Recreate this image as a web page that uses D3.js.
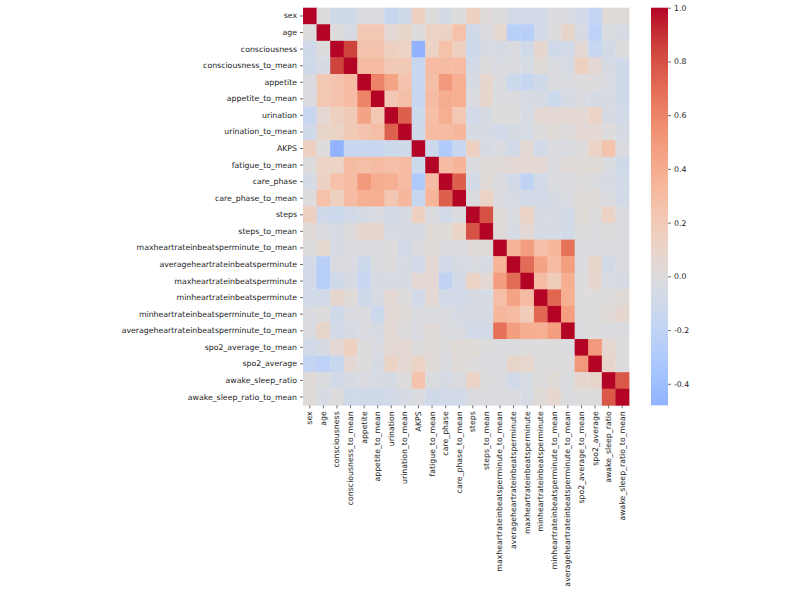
<!DOCTYPE html>
<html>
<head>
<meta charset="utf-8">
<script src="https://cdn.jsdelivr.net/npm/d3@7"></script>
<style>
  body { margin: 0; background: #fff; }
  text { font-family: "DejaVu Sans", sans-serif; fill: #222; }
</style>
</head>
<body>
<svg id="chart"></svg>
<script>
(function (d3) {
  'use strict'
  const W = 800
  const H = 600

  // variable names, same order for rows and columns
  const names = [
    'sex', 'age', 'consciousness', 'consciousness_to_mean', 'appetite',
    'appetite_to_mean', 'urination', 'urination_to_mean', 'AKPS',
    'fatigue_to_mean', 'care_phase', 'care_phase_to_mean', 'steps',
    'steps_to_mean', 'maxheartrateinbeatsperminute_to_mean',
    'averageheartrateinbeatsperminute', 'maxheartrateinbeatsperminute',
    'minheartrateinbeatsperminute', 'minheartrateinbeatsperminute_to_mean',
    'averageheartrateinbeatsperminute_to_mean', 'spo2_average_to_mean',
    'spo2_average', 'awake_sleep_ratio', 'awake_sleep_ratio_to_mean'
  ]

  // upper triangle: row i holds corr(i, j) for j = i+1 .. end
  const upper = [
    [0.0, -0.1, -0.1, -0.03, -0.03, -0.15, -0.1, 0.15, 0.0, -0.06, 0.0, 0.15, 0.02, -0.01, -0.08, -0.08, -0.08, -0.03, -0.03, -0.08, -0.18, 0.02, 0.02],
    [0.0, -0.05, 0.22, 0.22, 0.05, 0.1, 0.0, 0.12, 0.13, 0.27, -0.1, -0.02, 0.06, -0.25, -0.25, -0.08, 0.0, 0.1, -0.05, -0.22, -0.02, -0.05],
    [0.85, 0.25, 0.25, 0.15, 0.12, -0.48, 0.12, 0.27, 0.15, -0.12, -0.05, -0.05, -0.03, -0.1, 0.08, -0.1, -0.08, 0.05, -0.15, -0.08, 0.0],
    [0.3, 0.3, 0.2, 0.2, -0.15, 0.3, 0.3, 0.3, -0.08, 0.0, -0.03, -0.03, -0.05, 0.03, -0.03, -0.05, 0.15, 0.05, -0.05, -0.1],
    [0.6, 0.45, 0.25, -0.15, 0.28, 0.5, 0.38, -0.05, 0.08, -0.02, -0.12, -0.15, -0.1, -0.02, -0.03, 0.0, 0.0, -0.03, -0.1],
    [0.22, 0.28, -0.15, 0.3, 0.4, 0.38, -0.03, 0.08, -0.02, -0.02, -0.05, -0.05, -0.12, -0.05, -0.03, -0.05, -0.05, -0.1],
    [0.75, -0.12, 0.28, 0.38, 0.22, -0.08, -0.05, 0.0, 0.0, -0.05, 0.05, 0.05, 0.05, 0.05, 0.12, -0.05, -0.08],
    [-0.1, 0.3, 0.3, 0.33, -0.05, -0.05, -0.08, -0.05, -0.05, 0.0, 0.03, 0.0, 0.05, 0.05, 0.0, -0.05],
    [-0.12, -0.3, -0.15, 0.15, -0.05, -0.03, -0.08, 0.05, -0.08, -0.03, -0.03, 0.0, 0.12, 0.25, -0.02],
    [0.3, 0.35, -0.02, 0.03, 0.02, 0.05, 0.05, 0.05, -0.02, 0.02, 0.02, 0.03, -0.02, -0.1],
    [0.75, -0.08, 0.03, -0.02, -0.08, -0.2, -0.08, -0.02, -0.02, 0.0, -0.02, -0.05, -0.08],
    [-0.02, 0.12, -0.03, -0.05, -0.08, -0.08, -0.05, -0.03, 0.03, 0.02, -0.02, -0.08],
    [0.8, 0.02, -0.03, 0.12, -0.05, -0.05, -0.08, 0.03, 0.0, 0.12, -0.02],
    [0.02, -0.05, 0.05, -0.05, -0.05, -0.08, 0.0, -0.02, 0.0, -0.02],
    [0.35, 0.48, 0.28, 0.33, 0.68, -0.02, -0.02, -0.02, -0.02],
    [0.7, 0.45, 0.3, 0.48, -0.02, 0.1, -0.08, -0.03],
    [0.3, 0.18, 0.39, 0.0, 0.08, -0.04, -0.05],
    [0.72, 0.38, 0.0, 0.0, 0.0, 0.03],
    [0.48, 0.0, 0.0, 0.03, 0.07],
    [-0.02, 0.0, -0.02, -0.02],
    [0.5, 0.07, 0.0],
    [0.09, 0.0],
    [0.78]
  ]

  const cbarTicks = [-0.4, -0.2, 0.0, 0.2, 0.4, 0.6, 0.8, 1.0]

  // matplotlib coolwarm, sampled every 1/16
  const coolwarm = d3.interpolateRgbBasis([
    '#3b4cc0', '#4d68d7', '#6282ea', '#779af7', '#8db0fe', '#a3c2ff',
    '#b8d0f9', '#ccd9ee', '#dddddd', '#ecd3c5', '#f5c4ad', '#f7b194',
    '#f49a7b', '#ec7f63', '#de604d', '#cb3e38', '#b40426'
  ])

  // build full symmetric matrix
  const n = names.length
  const cells = []
  const get = (i, j) => {
    if (i === j) return 1
    const a = Math.min(i, j), b = Math.max(i, j)
    return upper[a][b - a - 1]
  }
  for (let i = 0; i < n; i++) {
    for (let j = 0; j < n; j++) cells.push({ r: i, c: j, v: get(i, j) })
  }
  const vmin = d3.min(cells, d => d.v)
  const vmax = 1
  // seaborn center=0 -> symmetric colormap range
  const color = v => coolwarm((v + 1) / 2)

  const svg = d3.select('#chart').attr('width', W).attr('height', H)
  svg.append('rect').attr('width', W).attr('height', H).attr('fill', '#fff')

  const box = { x0: 303, x1: 629, y0: 7.7, y1: 405.3 }
  const x = d3.scaleBand().domain(d3.range(n)).range([box.x0, box.x1])
  const y = d3.scaleBand().domain(d3.range(n)).range([box.y0, box.y1])

  svg.append('g').selectAll('rect').data(cells).enter().append('rect')
    .attr('x', d => x(d.c))
    .attr('y', d => y(d.r))
    .attr('width', x.bandwidth() + 0.4)
    .attr('height', y.bandwidth() + 0.4)
    .attr('fill', d => color(d.v))

  // axes
  const yAxis = d3.axisLeft(d3.scaleBand().domain(names).range([box.y0, box.y1]))
    .tickSize(3).tickPadding(3)
  const gy = svg.append('g').attr('transform', `translate(${box.x0},0)`).call(yAxis)
  const xAxis = d3.axisBottom(d3.scaleBand().domain(names).range([box.x0, box.x1]))
    .tickSize(3).tickPadding(3)
  const gx = svg.append('g').attr('transform', `translate(0,${box.y1})`).call(xAxis)
  gx.selectAll('text')
    .attr('transform', 'rotate(-90)')
    .attr('text-anchor', 'end')
    .attr('x', -6).attr('y', 0).attr('dy', '0.32em')

  // colorbar
  const cb = { x: 651, w: 17 }
  const cy = d3.scaleLinear().domain([vmin, vmax]).range([box.y1, box.y0])
  const grad = svg.append('defs').append('linearGradient')
    .attr('id', 'cbar').attr('x1', 0).attr('y1', 1).attr('x2', 0).attr('y2', 0)
  d3.range(0, 1.0001, 0.05).forEach(t => {
    grad.append('stop').attr('offset', t)
      .attr('stop-color', color(vmin + t * (vmax - vmin)))
  })
  svg.append('rect')
    .attr('x', cb.x).attr('y', box.y0)
    .attr('width', cb.w).attr('height', box.y1 - box.y0)
    .attr('fill', 'url(#cbar)')
  const gc = svg.append('g').attr('transform', `translate(${cb.x + cb.w},0)`)
    .call(d3.axisRight(cy).tickValues(cbarTicks).tickFormat(d => d.toFixed(1))
      .tickSize(3).tickPadding(3))

  ;[gx, gy, gc].forEach(g => {
    g.select('.domain').remove()
    g.selectAll('text').style('font-size', '7.8px')
      .style('font-family', '"DejaVu Sans", sans-serif').attr('fill', '#222')
    g.selectAll('line').attr('stroke', '#333').attr('stroke-width', 0.7)
  })
}(d3))
</script>
</body>
</html>
